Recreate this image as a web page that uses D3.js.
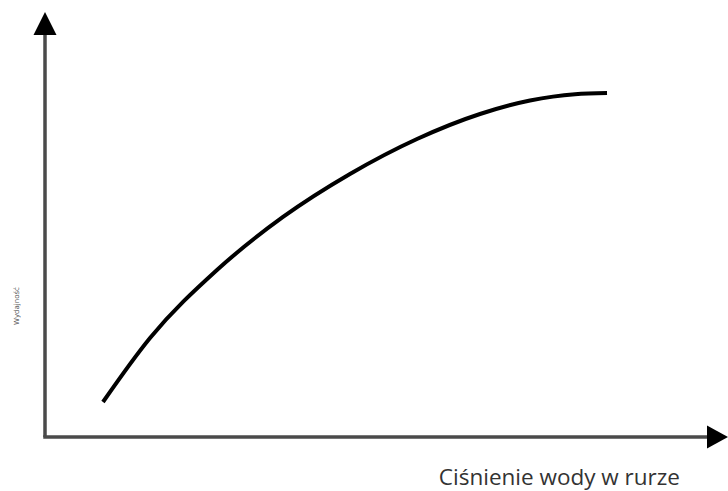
<!DOCTYPE html>
<html>
<head>
<meta charset="utf-8">
<script src="https://cdn.jsdelivr.net/npm/d3@7"></script>
<style>
  html, body { margin: 0; padding: 0; background: #fff; }
  svg { display: block; }
</style>
</head>
<body>
<svg id="chart" width="728" height="491"></svg>
<script>
// Pressure in the pipe (relative units) and resulting output (relative units)
const pressure = [8.64, 15.65, 25.63, 35.47, 45.45, 55.44, 64.83, 72.28, 78.99, 83.76];
const output   = [8.39, 23.74, 40.05, 52.76, 63.07, 71.46, 77.46, 80.70, 82.21, 82.49];

const xLabel = "Ciśnienie wody w rurze";
const yLabel = "Wydajność";

const svg = d3.select("#chart");
const plotLeft = 45, plotBottom = 437, plotRight = 716, plotTop = 20;

const x = d3.scaleLinear().domain([0, 100]).range([plotLeft, plotRight]);
const y = d3.scaleLinear().domain([0, 100]).range([plotBottom, plotTop]);

const axisColor = "#4a4a4a";

// Axes as plain arrows
svg.append("line")
  .attr("x1", x(0)).attr("y1", y(0)).attr("x2", x(0)).attr("y2", 28)
  .attr("stroke", axisColor).attr("stroke-width", 3.5);
svg.append("line")
  .attr("x1", x(0) - 1.75).attr("y1", y(0)).attr("x2", 712).attr("y2", y(0))
  .attr("stroke", axisColor).attr("stroke-width", 3.5);

// Arrowheads
svg.append("path")
  .attr("d", `M${x(0)},12 L${x(0) - 11.5},35 L${x(0) + 11.5},35 Z`)
  .attr("fill", "#000");
svg.append("path")
  .attr("d", `M728,${y(0)} L707,${y(0) - 11.5} L707,${y(0) + 11.5} Z`)
  .attr("fill", "#000");

// Curve
const line = d3.line()
  .x((d, i) => x(pressure[i]))
  .y(d => y(d))
  .curve(d3.curveMonotoneX);

svg.append("path")
  .datum(output)
  .attr("d", line)
  .attr("fill", "none")
  .attr("stroke", "#000")
  .attr("stroke-width", 4)
  .attr("stroke-linecap", "butt");

// Labels
svg.append("text")
  .attr("x", 680).attr("y", 485)
  .attr("text-anchor", "end")
  .attr("font-family", "'Open Sans', sans-serif")
  .attr("font-size", 22.5)
  .attr("fill", "#333")
  .text(xLabel);

svg.append("text")
  .attr("transform", "translate(19,306) rotate(-90)")
  .attr("text-anchor", "middle")
  .attr("font-family", "'DejaVu Sans', sans-serif")
  .attr("font-size", 7)
  .attr("fill", "#555")
  .text(yLabel);
</script>
</body>
</html>
